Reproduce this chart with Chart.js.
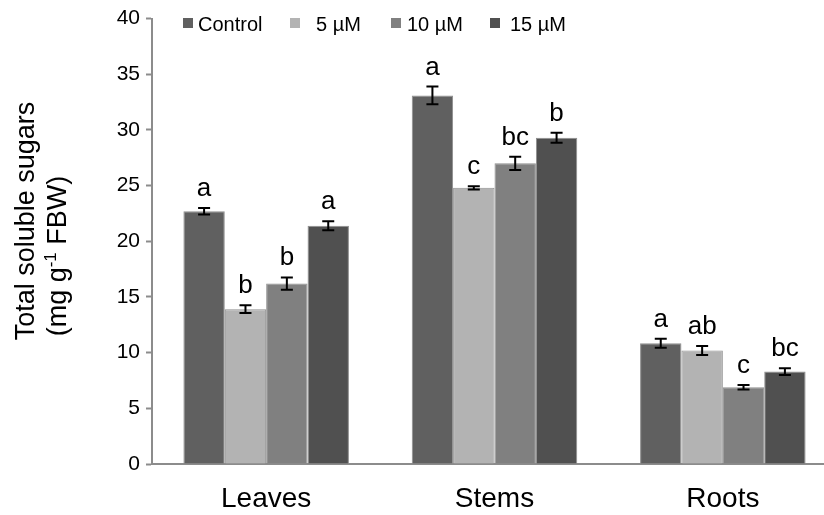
<!DOCTYPE html>
<html><head><meta charset="utf-8">
<script src="https://cdn.jsdelivr.net/npm/chart.js@4"></script>
<style>
html,body{margin:0;padding:0;background:#fff;overflow:hidden;width:824px;height:515px}
#wrap{width:838px;height:515px;position:relative}
</style></head>
<body><div id="wrap"><canvas id="c" width="838" height="515"></canvas></div>
<script>
const categories = ['Leaves', 'Stems', 'Roots'];
const seriesNames = ['Control', '5 µM', '10 µM', '15 µM'];
const controlValues = [22.7, 33.1, 10.85];
const uM5Values = [13.9, 24.8, 10.2];
const uM10Values = [16.2, 27.0, 6.9];
const uM15Values = [21.4, 29.3, 8.3];
const controlErrors = [0.3, 0.8, 0.4];
const uM5Errors = [0.35, 0.15, 0.4];
const uM10Errors = [0.55, 0.6, 0.2];
const uM15Errors = [0.4, 0.45, 0.3];
const controlLetters = ['a', 'a', 'a'];
const uM5Letters = ['b', 'c', 'ab'];
const uM10Letters = ['b', 'bc', 'c'];
const uM15Letters = ['a', 'b', 'bc'];
const yTickValues = [0, 5, 10, 15, 20, 25, 30, 35, 40];
const yTitleLine1 = 'Total soluble sugars';
const yTitleLine2 = ['(mg g', '-1', ' FBW)'];

const colors = ['#606060', '#b3b3b3', '#808080', '#505050'];
const FONT = '"Liberation Sans", Arial, Helvetica, sans-serif';

const valueSets = [controlValues, uM5Values, uM10Values, uM15Values];
const errorSets = [controlErrors, uM5Errors, uM10Errors, uM15Errors];
const letterSets = [controlLetters, uM5Letters, uM10Letters, uM15Letters];

const datasets = seriesNames.map((name, i) => ({
  label: name,
  data: valueSets[i],
  errors: errorSets[i],
  letters: letterSets[i],
  backgroundColor: colors[i],
  borderColor: '#8e8e8e',
  borderWidth: 1,
  borderSkipped: 'bottom',
  categoryPercentage: 0.725,
  barPercentage: 1.0
}));

const overlay = {
  id: 'overlay',
  afterDatasetsDraw(chart) {
    const ctx = chart.ctx;
    const ys = chart.scales.y;
    chart.data.datasets.forEach((ds, i) => {
      const meta = chart.getDatasetMeta(i);
      meta.data.forEach((bar, j) => {
        const v = ds.data[j], e = ds.errors[j];
        const yt = ys.getPixelForValue(v + e), yb = ys.getPixelForValue(v - e);
        ctx.save();
        ctx.strokeStyle = '#000';
        ctx.lineWidth = 2;
        ctx.beginPath();
        ctx.moveTo(bar.x, yt); ctx.lineTo(bar.x, yb);
        ctx.moveTo(bar.x - 6, yt); ctx.lineTo(bar.x + 6, yt);
        ctx.moveTo(bar.x - 6, yb); ctx.lineTo(bar.x + 6, yb);
        ctx.stroke();
        ctx.fillStyle = '#000';
        ctx.font = '26px ' + FONT;
        ctx.textAlign = 'center';
        ctx.textBaseline = 'alphabetic';
        ctx.fillText(ds.letters[j], bar.x, yt - 12);
        ctx.restore();
      });
    });
  },
  afterDraw(chart) {
    const ctx = chart.ctx;
    // legend
    const boxX = [183, 290, 391, 490];
    const textX = [198, 316, 407, 510];
    ctx.save();
    ctx.font = '20px ' + FONT;
    ctx.textAlign = 'left';
    ctx.textBaseline = 'alphabetic';
    chart.data.datasets.forEach((ds, i) => {
      ctx.fillStyle = ds.backgroundColor;
      ctx.fillRect(boxX[i], 18, 10, 10);
      ctx.fillStyle = '#000';
      ctx.fillText(ds.label, textX[i], 31);
    });
    ctx.restore();
    // y title
    ctx.save();
    ctx.fillStyle = '#000';
    ctx.translate(27, 221);
    ctx.rotate(-Math.PI / 2);
    ctx.font = '27px ' + FONT;
    ctx.textAlign = 'center';
    ctx.textBaseline = 'middle';
    ctx.fillText(yTitleLine1, 0, 0);
    ctx.restore();

    ctx.save();
    ctx.fillStyle = '#000';
    ctx.translate(59, 256);
    ctx.rotate(-Math.PI / 2);
    ctx.textBaseline = 'middle';
    ctx.textAlign = 'left';
    const big = '27px ' + FONT, small = '17px ' + FONT;
    ctx.font = big; const w1 = ctx.measureText(yTitleLine2[0]).width;
    ctx.font = small; const w2 = ctx.measureText(yTitleLine2[1]).width;
    ctx.font = big; const w3 = ctx.measureText(yTitleLine2[2]).width;
    let x = -(w1 + w2 + w3) / 2;
    ctx.font = big; ctx.fillText(yTitleLine2[0], x, 0); x += w1;
    ctx.font = small; ctx.fillText(yTitleLine2[1], x, -8); x += w2;
    ctx.font = big; ctx.fillText(yTitleLine2[2], x, 0);
    ctx.restore();
  }
};

new Chart(document.getElementById('c'), {
  type: 'bar',
  data: { labels: categories, datasets },
  options: {
    responsive: false,
    animation: false,
    layout: { padding: { top: 18, right: 1, left: 0, bottom: 0 } },
    plugins: { legend: { display: false }, tooltip: { enabled: false } },
    scales: {
      x: {
        grid: { display: true, drawOnChartArea: false, drawTicks: false },
        border: { display: true, color: '#8c8c8c', width: 2 },
        ticks: { color: '#000', font: { size: 28, family: FONT }, padding: 18 },
        afterFit(scale) { scale.height = 51; }
      },
      y: {
        min: 0, max: 40,
        afterBuildTicks(scale) { scale.ticks = yTickValues.map(v => ({ value: v })); },
        grid: { drawOnChartArea: false, drawTicks: true, tickLength: 6, tickColor: '#8c8c8c', tickWidth: 2 },
        border: { display: true, color: '#8c8c8c', width: 2 },
        ticks: { color: '#000', font: { size: 21, family: FONT }, padding: 6 },
        afterFit(scale) { scale.width = 152; }
      }
    }
  },
  plugins: [overlay]
});
</script>
</body></html>
